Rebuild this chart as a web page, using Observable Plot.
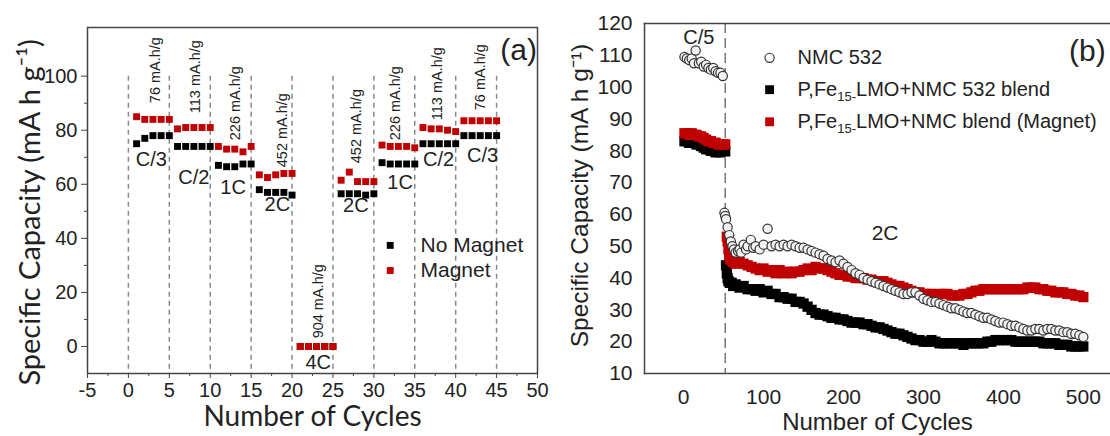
<!DOCTYPE html>
<html>
<head>
<meta charset="utf-8">
<script src="https://cdn.jsdelivr.net/npm/d3@7"></script>
<script src="https://cdn.jsdelivr.net/npm/@observablehq/plot@0.6"></script>
<style>
  html, body { margin: 0; padding: 0; background: #fff; }
  #wrap { position: relative; width: 1110px; height: 436px; overflow: hidden; background: #fff; }
  #wrap svg { position: absolute; top: 0; }
</style>
</head>
<body>
<div id="wrap"></div>
<script>
// ---------------- Panel (a) data ----------------
const cyclesA = [1,2,3,4,5,6,7,8,9,10,11,12,13,14,15,16,17,18,19,20,21,22,23,24,25,26,27,28,29,30,31,32,33,34,35,36,37,38,39,40,41,42,43,44,45];
const noMagnet = [75,77,78,78,78, 74,74,74,74,74, 67,66.5,66.5,67.5,67.5, 58,57,57,57,56, 0,0,0,0,0, 56.5,56.5,56.5,56,56.5, 68,67.5,67.5,67.5,67.5, 75,75,75,75,75, 78,78,78,78,78];
const magnet = [85,84,84,84,84, 80.5,81,81,81,81, 74,73,73,72,74, 63.5,62.5,63.5,64,64, 0,0,0,0,0, 61.5,64.5,61,61,61, 74.5,74,74,74,73.5, 81,80.5,80.5,80,79.5, 83.5,83.5,83.5,83.5,83.5];
const dashXA = [0,5,10,15,20,25,30,35,40,45];
const rateLabels = ["76 mA.h/g","113 mA.h/g","226 mA.h/g","452 mA.h/g","904 mA.h/g","452 mA.h/g","226 mA.h/g","113 mA.h/g","76 mA.h/g"];
const rateX = [3.3, 8.2, 13.1, 18.8, 23.2, 27.8, 32.6, 37.8, 43];
const rateY = [90, 86.3, 76.3, 66.3, 3, 67.8, 76.3, 83.7, 87.4];
const cLabels = ["C/3","C/2","1C","2C","4C","2C","1C","C/2","C/3"];
const cX = [2.8, 8, 12.8, 18.2, 23.2, 27.8, 33.2, 37.9, 43.3];
const cY = [69.3, 62.6, 58.7, 52.5, -6, 52.3, 60.7, 69.2, 70.7];
const xTicksA = [-5,0,5,10,15,20,25,30,35,40,45,50];
const xMinorA = [-2.5,2.5,7.5,12.5,17.5,22.5,27.5,32.5,37.5,42.5,47.5];
const yTicksA = [0,20,40,60,80,100];
const yMinorA = [10,30,50,70,90];
const legendA = ["No Magnet","Magnet"];
const legendAY = [37.4, 28.1];
const legendAColor = ["#000000","#c00000"];

// ---------------- Panel (b) data ----------------
const nmcCycles = [1,4,7,10,13,15,19,22,25,28,31,34,37,40,43,46,49,
  51,52,53,55,57,59,61,63,65,68,70,72,75,78,80,84,87,90,95,100,105,110,115,120,125,130,135,140,145,150,155,160,165,170,175,180,185,190,195,200,205,210,215,220,225,230,235,240,245,250,255,260,265,270,275,280,285,290,295,300,305,310,315,320,325,330,335,340,345,350,355,360,365,370,375,380,385,390,395,400,405,410,415,420,425,430,435,440,445,450,455,460,465,470,475,480,485,490,495,500];
const nmcValues = [109.5,109,108.5,109,107.5,111.5,107.5,108,106.5,107,106,105.5,106,105,104.5,104.5,103.5,
  60.5,59.5,58.5,56,53.5,51.5,50,49,48,48.5,49,48,50.5,49,50,52,49.5,50,49,50.5,55.5,50,50.5,50,50.5,50,50.5,50,49.5,49.5,49,48.5,48,47.5,47,46,45.5,45,45.5,44.5,43.5,42.5,41.5,41,40,39.5,39,38.5,38,37.5,37,36.5,36,35.5,35,35,35.5,35.5,34.5,33.5,33,32.5,32.5,32,31.5,31,30.5,30.5,30,29.5,29,29,28.5,28,27.5,27.5,27,26.5,26,26,25.5,25,25,24.5,24,23.5,23.5,24,24,23.5,24,24,23.5,23.5,23,23,22.5,22.5,22,21.5];

const blendCycles = [1,4,7,10,13,16,19,22,25,28,31,34,37,40,43,46,49,52,
  53,54,55,56,58,60,62,65,70,75,80,85,90,95,100,105,110,115,120,125,130,135,140,145,150,155,160,165,170,175,180,185,190,195,200,205,210,215,220,225,230,235,240,245,250,255,260,265,270,275,280,285,290,295,300,305,310,315,320,325,330,335,340,345,350,355,360,365,370,375,380,385,390,395,400,405,410,415,420,425,430,435,440,445,450,455,460,465,470,475,480,485,490,495,500];
const blendValues = [83,83,82.5,83,82.5,82,82,81.5,81,80.5,80.5,80,80,79.5,80,79.5,80,79.8,
  44,41.5,40,39,38.5,38.5,37.5,38,37,37.5,36.5,36.5,36,36.5,35.5,36,35,35,34,34,33.5,33.5,32.5,32.5,32,31,30,29,28.5,28.5,28,27.5,27.5,27,27,26.5,26,26,26,25.5,25.5,25,24.5,24.5,24,23.5,23,22.5,22.5,22,21.5,21,20.5,20.5,20,20,20.5,20,19.5,19.5,19.5,19.5,19.5,19.5,19,19.5,19.5,19.5,19.5,19.5,20,20,20.5,20.5,20.5,20.5,20.5,20,20,20,20,20,20,20,19.5,19.5,19.5,19.5,19,19,19,18.5,18.5,18.5,18.5];

const magnetCycles = [1,4,7,10,13,16,19,22,25,28,31,34,37,40,43,46,49,52,
  54,55,56,57,58,60,62,65,70,75,80,85,90,95,100,105,110,115,120,125,130,135,140,145,150,155,160,165,170,175,180,185,190,195,200,205,210,215,220,225,230,235,240,245,250,255,260,265,270,275,280,285,290,295,300,305,310,315,320,325,330,335,340,345,350,355,360,365,370,375,380,385,390,395,400,405,410,415,420,425,430,435,440,445,450,455,460,465,470,475,480,485,490,495,500];
const magnetValues = [85.5,85.5,85,85.5,85,85,84.5,84.5,84,83.5,83,83,82.5,82.5,82,82,82,82,
  53,51.5,49,47,46,45.5,45,44.5,45,44.5,44,43.5,43,42.5,43,42,42.5,41.5,42.5,41.5,42,41.5,42,42,42.5,43,42.5,43.5,43,43,42.5,42,41.5,41,41,40.5,40.5,40,40,40,39.5,39.5,39,39,39,38.5,38,37.5,37.5,37,36.5,36,35.5,35.5,35,35,35,34.5,35,35,35,34.5,34.5,34.5,35,35,35.5,36,36,36.5,36.5,36.5,36.5,36.5,36.5,36.5,36.5,36.5,36.5,36.5,37,37,37,36.5,36.5,36,36,35.5,35.5,35.5,35,35,34.5,34.5,34];

const xTicksB = [0,100,200,300,400,500];
const yTicksB = [10,20,30,40,50,60,70,80,90,100,110,120];
const legendB = ["NMC 532","P,Fe15-LMO+NMC 532 blend","P,Fe15-LMO+NMC blend (Magnet)"];
const legendBY = [109.2, 99.2, 89.1];

// ---------------- helpers ----------------
const tableA = cyclesA.map((c, i) => ({cycle: c, noMagnet: noMagnet[i], magnet: magnet[i]}));
const rateTable = rateLabels.map((t, i) => ({t, x: rateX[i], y: rateY[i]}));
const cTable = cLabels.map((t, i) => ({t, x: cX[i], y: cY[i]}));
const legATable = legendA.map((t, i) => ({t, y: legendAY[i], c: legendAColor[i]}));
const nmc = nmcCycles.map((c, i) => ({c, v: nmcValues[i]}));
const blend = blendCycles.map((c, i) => ({c, v: blendValues[i]}));
const mag = magnetCycles.map((c, i) => ({c, v: magnetValues[i]}));
const legBTable = legendB.map((t, i) => ({t, y: legendBY[i], i}));

const ARIAL = "'Liberation Sans', Arial, sans-serif";
const CALIBRI = "Lato, 'Open Sans', sans-serif";
const hyphen = d => String(d);

function rich(svg, plain, html) {
  svg.querySelectorAll("text").forEach(t => { if (t.textContent === plain) t.innerHTML = html; });
}

// ---------------- Panel (a) ----------------
const plotA = Plot.plot({
  width: 560, height: 436,
  marginLeft: 87, marginRight: 23, marginTop: 27, marginBottom: 63,
  x: {domain: [-5, 50]},
  y: {domain: [-10, 118]},
  style: {fontFamily: ARIAL, color: "#222", background: "transparent", overflow: "visible"},
  marks: [
    Plot.ruleX(dashXA, {x: d => d, y1: 100, y2: -10, stroke: "#8a8a8a", strokeWidth: 1.5, strokeDasharray: "5,4"}),
    Plot.dot(tableA, {x: "cycle", y: "noMagnet", symbol: "square", r: 3.9, fill: "#000", stroke: "none"}),
    Plot.dot(tableA, {x: "cycle", y: "magnet", symbol: "square", r: 3.9, fill: "#c00000", stroke: "none"}),
    Plot.frame({stroke: "#444", strokeWidth: 1.5}),
    Plot.axisY(yTicksA, {tickSize: 6, tickPadding: 4, fontSize: 20, label: null, stroke: "#444", tickFormat: hyphen}),
    Plot.axisY(yMinorA, {tickSize: 3, text: null, label: null, stroke: "#444"}),
    Plot.axisX(xTicksA, {tickSize: 5, tickPadding: 4, fontSize: 20, label: null, stroke: "#444", tickFormat: hyphen}),
    Plot.axisX(xMinorA, {tickSize: 3, text: null, label: null, stroke: "#444"}),
    Plot.text(rateTable, {x: "x", y: "y", text: "t", rotate: -90, textAnchor: "start", fontSize: 14.5, fill: "#222"}),
    Plot.text(cTable, {x: "x", y: "y", text: "t", fontSize: 20, fill: "#222"}),
    Plot.dot(legATable, {x: 32, y: "y", symbol: "square", r: 3.9, fill: "c", stroke: "none"}),
    Plot.text(legATable, {x: 35.7, y: "y", text: "t", textAnchor: "start", fontSize: 21, fill: "#222"}),
    Plot.text(["(a)"], {x: 47.7, y: 109.6, text: d => d, fontSize: 30, fill: "#222"}),
    Plot.text(["Specific Capacity (mA h g⁻¹)"], {frameAnchor: "left", dx: -57, dy: 12, rotate: -90, textAnchor: "middle", lineAnchor: "middle", text: d => d, fontSize: 29, fontFamily: CALIBRI, fill: "#222"}),
    Plot.text(["Number of Cycles"], {frameAnchor: "bottom", dy: 44, textAnchor: "middle", lineAnchor: "middle", text: d => d, fontSize: 28, fontFamily: CALIBRI, fill: "#222"})
  ]
});
plotA.style.left = "0px";

// ---------------- Panel (b) ----------------
const plotB = Plot.plot({
  width: 550, height: 436,
  marginLeft: 84, marginRight: 0, marginTop: 23, marginBottom: 63,
  x: {domain: [-49, 534]},
  y: {domain: [10, 120]},
  style: {fontFamily: ARIAL, color: "#222", background: "transparent", overflow: "visible"},
  marks: [
    Plot.ruleX([52], {x: d => d, stroke: "#777", strokeWidth: 1.5, strokeDasharray: "10,5"}),
    Plot.dot(blend, {x: "c", y: "v", symbol: "square", r: 5.8, fill: "#000", stroke: "none"}),
    Plot.dot(mag, {x: "c", y: "v", symbol: "square", r: 5.8, fill: "#c00000", stroke: "none"}),
    Plot.dot(nmc, {x: "c", y: "v", r: 4.6, fill: "#f2f2f2", stroke: "#333", strokeWidth: 1.2}),
    Plot.frame({anchor: "left", stroke: "#444", strokeWidth: 1.5}),
    Plot.frame({anchor: "bottom", stroke: "#444", strokeWidth: 1.5}),
    Plot.frame({anchor: "top", stroke: "#444", strokeWidth: 1.5}),
    Plot.axisY(yTicksB, {tickSize: 0, tickPadding: 12, fontSize: 21, label: null}),
    Plot.axisX(xTicksB, {tickSize: 0, tickPadding: 16, fontSize: 21, label: null}),
    Plot.text(["C/5"], {x: 19, y: 115.5, text: d => d, fontSize: 20, fill: "#222"}),
    Plot.text(["2C"], {x: 252, y: 54, text: d => d, fontSize: 21, fill: "#222"}),
    Plot.text(["(b)"], {x: 505, y: 111.3, text: d => d, fontSize: 30, fill: "#222"}),
    Plot.dot(legBTable.filter(d => d.i === 0), {x: 107.5, y: "y", r: 4.6, fill: "#fff", stroke: "#333", strokeWidth: 1.2}),
    Plot.dot(legBTable.filter(d => d.i === 1), {x: 107.5, y: "y", symbol: "square", r: 5, fill: "#000", stroke: "none"}),
    Plot.dot(legBTable.filter(d => d.i === 2), {x: 107.5, y: "y", symbol: "square", r: 5, fill: "#c00000", stroke: "none"}),
    Plot.text(legBTable, {x: 142.5, y: "y", text: "t", textAnchor: "start", fontSize: 20, fill: "#222"}),
    Plot.text(["Specific Capacity (mA h g⁻¹)"], {frameAnchor: "left", dx: -64, dy: -3, rotate: -90, textAnchor: "middle", lineAnchor: "middle", text: d => d, fontSize: 24.5, fill: "#222"}),
    Plot.text(["Number of Cycles"], {frameAnchor: "bottom", dy: 49, textAnchor: "middle", lineAnchor: "middle", text: d => d, fontSize: 24, fill: "#222"})
  ]
});
plotB.style.left = "560px";
rich(plotB, "P,Fe15-LMO+NMC 532 blend", 'P,Fe<tspan dy="5" font-size="13">15-</tspan><tspan dy="-5">LMO+NMC 532 blend</tspan>');
rich(plotB, "P,Fe15-LMO+NMC blend (Magnet)", 'P,Fe<tspan dy="5" font-size="13">15-</tspan><tspan dy="-5">LMO+NMC blend (Magnet)</tspan>');

const wrap = document.getElementById("wrap");
wrap.appendChild(plotA);
wrap.appendChild(plotB);
</script>
</body>
</html>
